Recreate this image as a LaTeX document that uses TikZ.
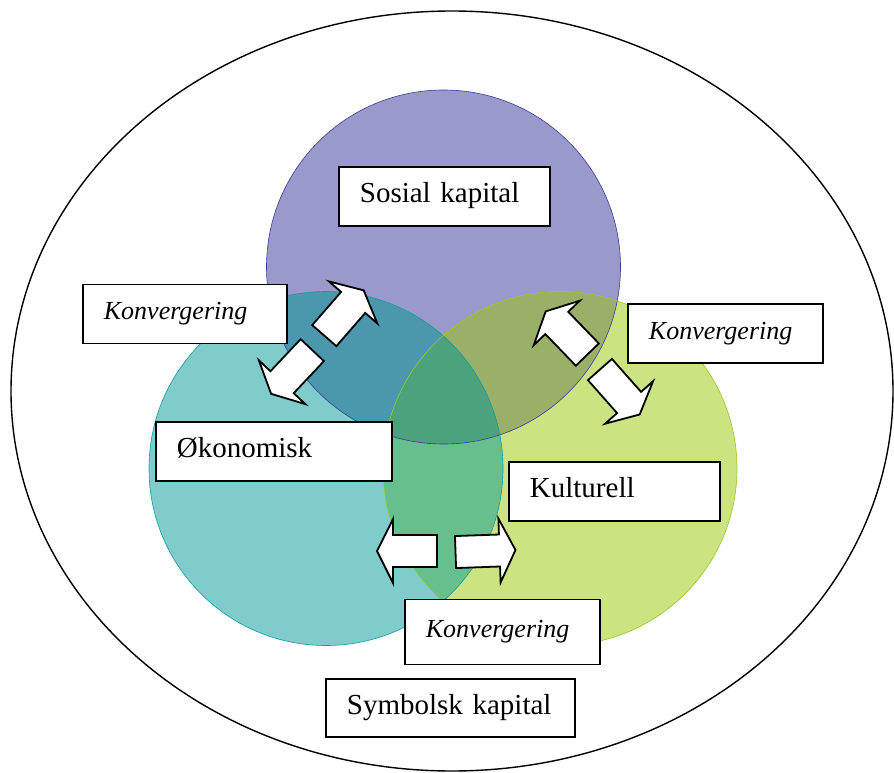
\documentclass[tikz,border=0pt]{standalone}
\usepackage{fontspec}
\setmainfont{Liberation Serif}
\begin{document}
\begin{tikzpicture}[x=1pt,y=-1pt,
  lbl/.style={draw=black,line width=1.8pt,fill=white,anchor=north west,
    inner xsep=21pt,inner ysep=0pt,align=left,
    text height=20pt,text depth=7pt,
    font=\fontsize{29}{34}\selectfont},
  klbl/.style={lbl,text height=18pt,text depth=6.5pt,
    font=\fontsize{26}{31}\selectfont\itshape},
  barrow/.pic={
    \draw[line width=1.8pt,fill=white,line join=miter]
      (-30,-16) -- (14,-16) -- (14,-32) -- (30,0) -- (14,32) -- (14,16)
      -- (-30,16) -- cycle;}
]
\definecolor{cP}{RGB}{153,153,204}
\definecolor{cT}{RGB}{128,203,204}
\definecolor{cG}{RGB}{204,227,129}
\definecolor{cPT}{RGB}{74,151,174}
\definecolor{cPG}{RGB}{154,176,104}
\definecolor{cTG}{RGB}{102,191,141}
\definecolor{cPTG}{RGB}{76,162,125}
\definecolor{lP}{RGB}{60,60,150}
\definecolor{lT}{RGB}{20,155,155}
\definecolor{lG}{RGB}{150,200,40}

\useasboundingbox (0,0) rectangle (894,773);

% outer field
\coordinate (field) at (452,391);
\draw[line width=1.4pt] (field) ellipse [x radius=441, y radius=380];

% the three forms of capital
\coordinate (cs) at (443.5,267);
\coordinate (ce) at (326,468.5);
\coordinate (cc) at (560,468.5);
\def\R{177}

\fill[cP] (cs) circle (\R);
\fill[cT] (ce) circle (\R);
\fill[cG] (cc) circle (\R);
\begin{scope}\clip (cs) circle (\R); \fill[cPT] (ce) circle (\R);\end{scope}
\begin{scope}\clip (cs) circle (\R); \fill[cPG] (cc) circle (\R);\end{scope}
\begin{scope}\clip (ce) circle (\R); \fill[cTG] (cc) circle (\R);\end{scope}
\begin{scope}\clip (cs) circle (\R); \clip (ce) circle (\R);
  \fill[cPTG] (cc) circle (\R);\end{scope}
\draw[lP,line width=0.6pt] (cs) circle (\R);
\draw[lT,line width=0.6pt] (ce) circle (\R);
\draw[lG,line width=0.6pt] (cc) circle (\R);

% conversion arrows
\pic[rotate=49]    at (344,313)   {barrow};
\pic[rotate=226.7] at (291.7,372) {barrow};
\pic[rotate=134]   at (566.5,333) {barrow};
\pic[rotate=-48.5] at (619.8,392) {barrow};
\pic[rotate=180]   at (407,551)   {barrow};
\pic[rotate=2]     at (485.5,551) {barrow};

% labels
\node[lbl,minimum width=211pt,minimum height=59pt,text width=169pt]
  (sosial) at (338,166) {Sosial kapital};
\node[lbl,minimum width=236pt,minimum height=59pt,text width=194pt]
  (okon) at (155,421) {Økonomisk};
\node[lbl,minimum width=211pt,minimum height=59pt,text width=169pt]
  (kult) at (508,461) {Kulturell};
\node[lbl,minimum width=249pt,minimum height=58pt,text width=207pt]
  (symb) at (325,678) {Symbolsk kapital};
\node[klbl,minimum width=204pt,minimum height=59pt,text width=162pt]
  (konvL) at (82,283.5) {Konvergering};
\node[klbl,minimum width=195pt,minimum height=59pt,text width=153pt]
  (konvR) at (627,303) {Konvergering};
\node[klbl,minimum width=195pt,minimum height=65pt,text width=153pt]
  (konvB) at (404,598.5) {Konvergering};
\end{tikzpicture}
\end{document}
